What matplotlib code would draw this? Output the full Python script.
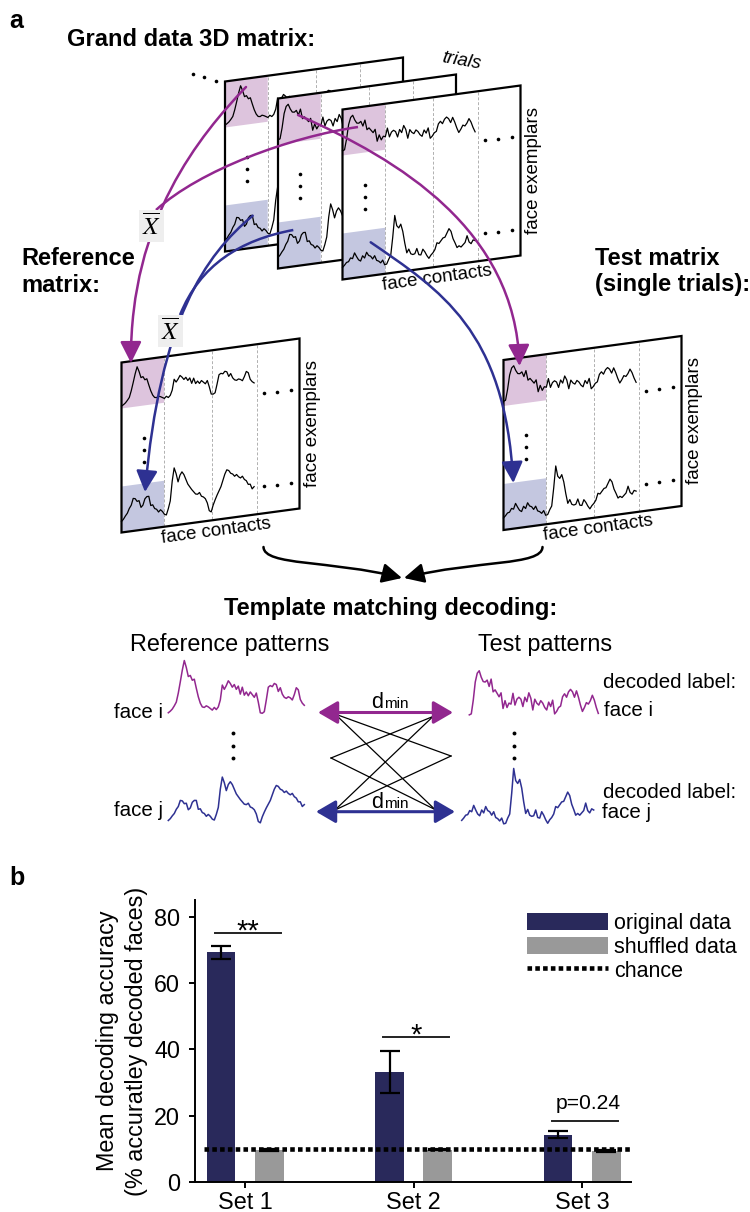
import numpy as np
import matplotlib
matplotlib.use("Agg")
import matplotlib.pyplot as plt
from matplotlib.patches import Polygon, FancyArrowPatch, PathPatch, Patch
from matplotlib.path import Path
from matplotlib.lines import Line2D

plt.rcParams['font.family'] = ['Liberation Sans', 'DejaVu Sans']
plt.rcParams['mathtext.fontset'] = 'stix'

# ---------------- data (panel b) ----------------
sets = ['Set 1', 'Set 2', 'Set 3']
original_mean = [69.3, 33.2, 14.3]
original_err = [2.0, 6.2, 1.0]
shuffled_mean = [9.8, 9.8, 9.4]
shuffled_err = [0.3, 0.2, 0.3]
chance_level = 10
sig_labels = ['**', '*', 'p=0.24']
sig_heights = [75.0, 43.6, 18.5]
y_ticks = [0, 20, 40, 60, 80]
legend_labels = ['original data', 'shuffled data', 'chance']

# ---------------- schematic traces (panel a), normalised amplitude ----------------
ref_i = [0.01, 0.04, 0.08, 0.14, 0.21, 0.38, 0.59, 0.81, 0.99, 0.86, 0.69, 0.71, 0.62, 0.64,
         0.47, 0.31, 0.19, 0.12, 0.11, 0.14, 0.12, 0.09, 0.06, 0.11, 0.07, 0.12, 0.25, 0.53,
         0.45, 0.52, 0.61, 0.56, 0.49, 0.54, 0.45, 0.51, 0.36, 0.49, 0.34, 0.40, 0.33, 0.40,
         0.35, 0.30, 0.38, 0.21, 0.01, 0.00, 0.03, 0.25, 0.49, 0.52, 0.50, 0.56, 0.54, 0.41,
         0.48, 0.36, 0.30, 0.28, 0.31, 0.29, 0.25, 0.35, 0.48, 0.44, 0.26, 0.19, 0.15]
ref_j = [0.06, 0.10, 0.16, 0.21, 0.30, 0.36, 0.49, 0.48, 0.42, 0.43, 0.29, 0.33, 0.45, 0.49,
         0.49, 0.30, 0.31, 0.23, 0.21, 0.15, 0.19, 0.15, 0.09, 0.07, 0.19, 0.34, 0.73, 0.99,
         0.87, 0.70, 0.83, 0.89, 0.83, 0.73, 0.63, 0.57, 0.51, 0.46, 0.41, 0.40, 0.43, 0.35,
         0.33, 0.29, 0.20, 0.04, 0.01, 0.14, 0.24, 0.33, 0.41, 0.49, 0.61, 0.73, 0.81, 0.79,
         0.73, 0.71, 0.66, 0.69, 0.64, 0.61, 0.64, 0.57, 0.54, 0.46, 0.46, 0.36, 0.40]
test_i = [0.07, 0.09, 0.37, 0.74, 0.92, 0.97, 0.84, 0.75, 0.74, 0.78, 0.65, 0.80, 0.54, 0.58,
          0.51, 0.44, 0.52, 0.20, 0.36, 0.22, 0.31, 0.29, 0.51, 0.27, 0.39, 0.43, 0.39, 0.24,
          0.43, 0.34, 0.52, 0.41, 0.17, 0.39, 0.31, 0.27, 0.36, 0.31, 0.22, 0.17, 0.33, 0.24,
          0.37, 0.09, 0.14, 0.22, 0.25, 0.44, 0.50, 0.43, 0.54, 0.59, 0.54, 0.43, 0.56, 0.43,
          0.27, 0.14, 0.22, 0.32, 0.29, 0.36, 0.47, 0.37, 0.22, 0.10]
test_j = [0.08, 0.12, 0.17, 0.18, 0.25, 0.23, 0.34, 0.26, 0.19, 0.16, 0.26, 0.21, 0.32, 0.25,
          0.23, 0.17, 0.23, 0.13, 0.11, 0.07, 0.12, 0.02, 0.03, 0.12, 0.19, 0.55, 0.98, 0.77,
          0.72, 0.79, 0.64, 0.40, 0.20, 0.27, 0.17, 0.15, 0.16, 0.26, 0.13, 0.12, 0.23, 0.17,
          0.09, 0.03, 0.09, 0.13, 0.19, 0.32, 0.30, 0.35, 0.40, 0.41, 0.49, 0.57, 0.51, 0.36,
          0.27, 0.17, 0.20, 0.17, 0.21, 0.25, 0.38, 0.25, 0.21, 0.28, 0.26]

# ---------------- style ----------------
PURPLE = '#92278F'
BLUE = '#2E3192'
PINK = '#DDC4DD'
LBLUE = '#C4C7E0'
NAVY = '#29295B'
GREY = '#999999'

fig = plt.figure(figsize=(7.5, 12.12), dpi=100)
ax0 = fig.add_axes([0, 0, 1, 1])
ax0.set_xlim(0, 750)
ax0.set_ylim(1212, 0)
ax0.axis('off')

W, H, S = 178.0, 170.0, 24.0


def top_y(x0, y0, x):
    return y0 - S * (np.asarray(x) - x0) / W


def draw_frame(x0, y0, z, row1, row2, labels=False):
    corners = [(x0, y0), (x0 + W, y0 - S), (x0 + W, y0 - S + H), (x0, y0 + H)]
    ax0.add_patch(Polygon(corners, closed=True, fc='white', ec='none', zorder=z))
    cw = 0.24 * W
    xa, xb = x0, x0 + cw
    ta, tb = top_y(x0, y0, xa), top_y(x0, y0, xb)
    ax0.add_patch(Polygon([(xa, ta), (xb, tb), (xb, tb + 46), (xa, ta + 46)],
                          fc=PINK, ec='none', zorder=z + 0.1))
    ax0.add_patch(Polygon([(xa, ta + 124), (xb, tb + 124), (xb, tb + H), (xa, ta + H)],
                          fc=LBLUE, ec='none', zorder=z + 0.1))
    for f in (0.24, 0.51, 0.76):
        xd = x0 + f * W
        td = top_y(x0, y0, xd)
        ax0.plot([xd, xd], [td + 1, td + H - 1], color='#B0B0B0', lw=0.7,
                 ls=(0, (3, 2)), zorder=z + 0.2)
    for vals, base, amp in ((row1, 44, 38), (row2, 162, 50)):
        v = np.asarray(vals)
        n = len(v)
        xs = x0 + 0.745 * W * np.arange(n) / (n - 1)
        ys = top_y(x0, y0, xs) + base - amp * v
        ax0.plot(xs, ys, color='black', lw=0.9, zorder=z + 0.3)
    for off in (50, 143):
        xd = x0 + np.array([0.80, 0.875, 0.95]) * W
        ax0.plot(xd, top_y(x0, y0, xd) + off, 'o', color='black', ms=2.6, mew=0,
                 zorder=z + 0.3)
    xd = x0 + 0.125 * W
    ax0.plot([xd] * 3, top_y(x0, y0, xd) + np.array([78, 90, 102]), 'o', color='black',
             ms=2.6, mew=0, zorder=z + 0.3)
    ax0.add_patch(Polygon(corners, closed=True, fc='none', ec='black', lw=1.6,
                          joinstyle='miter', zorder=z + 0.4))
    if labels:
        ax0.text(x0 + W + 13, y0 - S + H / 2, 'face exemplars', rotation=90,
                 ha='center', va='center', fontsize=13.5, zorder=z + 0.5)
        xc = x0 + 0.53 * W
        ax0.text(xc, top_y(x0, y0, xc) + H + 11, 'face contacts', rotation=7.7,
                 ha='center', va='center', fontsize=13.5, zorder=z + 0.5,
                 rotation_mode='anchor')


# ---------- titles ----------
ax0.text(9, 28, 'a', fontsize=18, fontweight='bold', va='baseline')
ax0.text(67, 46, 'Grand data 3D matrix:', fontsize=17, fontweight='bold', va='baseline')
ax0.text(21, 291.5, 'Reference\nmatrix:', fontsize=17, fontweight='bold', va='baseline',
         linespacing=1.2)
ax0.text(595, 291.5, 'Test matrix\n(single trials):', fontsize=17, fontweight='bold',
         va='baseline', linespacing=1.2)

# ---------- 3D stack ----------
ax0.plot([192.7, 204, 216], [74, 77.3, 80.7], 'o', color='black', ms=2.6, mew=0)
draw_frame(225, 81.5, 1, ref_i, ref_j)
draw_frame(278, 98.5, 2, test_i, ref_j)
draw_frame(342.5, 109.5, 3, test_i, test_j, labels=True)
ax0.text(461, 61, 'trials', fontsize=13.5, style='italic', rotation=-10,
         ha='center', va='center')

# ---------- reference & test matrices ----------
draw_frame(121.5, 362.5, 4, ref_i, ref_j, labels=True)
draw_frame(503.5, 360, 4, test_i, test_j, labels=True)


# ---------- curved arrows ----------
def curve(pts, color, arrow=True, lw=1.8, z=10, hl=13, hw=6.5):
    path = Path(pts, [Path.MOVETO, Path.CURVE4, Path.CURVE4, Path.CURVE4])
    if arrow:
        ax0.add_patch(FancyArrowPatch(path=path, arrowstyle=f'-|>,head_length={hl},head_width={hw}',
                                      color=color, lw=lw, zorder=z, mutation_scale=1))
    else:
        ax0.add_patch(PathPatch(path, fc='none', ec=color, lw=lw, zorder=z))


curve([(246, 87), (200, 135), (130, 220), (131, 363)], PURPLE)
curve([(358, 127), (290, 137), (200, 170), (156, 210)], PURPLE, arrow=False)
curve([(298, 115), (400, 160), (515, 230), (519.5, 366)], PURPLE)
curve([(252.7, 215.7), (205, 255), (160, 320), (145, 492)], BLUE)
curve([(293.3, 230), (240, 240), (200, 265), (180, 315)], BLUE, arrow=False)
curve([(370.7, 242.3), (440, 290), (505, 330), (513.3, 483)], BLUE)

xbar_box = dict(boxstyle='square,pad=0.12', fc='#EEEEEE', ec='none')
ax0.text(151.5, 226, r'$\overline{X}$', fontsize=18, ha='center', va='center',
         bbox=xbar_box, zorder=11)
ax0.text(170.5, 331, r'$\overline{X}$', fontsize=18, ha='center', va='center',
         bbox=xbar_box, zorder=11)

# ---------- brace arrows ----------
curve([(263.5, 547), (264, 566), (330, 560), (402, 578)], 'black', lw=1.8, hl=12, hw=6)
curve([(542.5, 547), (542, 566), (476, 560), (404, 578)], 'black', lw=1.8, hl=12, hw=6)

# ---------- template matching ----------
ax0.text(391, 615, 'Template matching decoding:', fontsize=17, fontweight='bold',
         ha='center', va='baseline')
ax0.text(229.5, 651.5, 'Reference patterns', fontsize=16.8, ha='center', va='baseline')
ax0.text(545, 651.5, 'Test patterns', fontsize=16.8, ha='center', va='baseline')


def pattern(vals, x_start, x_end, base, amp, color):
    v = np.asarray(vals)
    xs = np.linspace(x_start, x_end, len(v))
    ax0.plot(xs, base - amp * v, color=color, lw=1.1, zorder=5)


pattern(ref_i, 168.3, 304.3, 713.3, 53.3, PURPLE)
pattern(ref_j, 168.3, 304.3, 823.3, 46.7, BLUE)
pattern(test_i, 469.3, 598.3, 718.3, 49.0, PURPLE)
pattern(test_j, 461.7, 593.7, 825.0, 57.7, BLUE)

ax0.text(114, 717.5, 'face i', fontsize=14.8, va='baseline')
ax0.text(114, 816.5, 'face j', fontsize=14.8, va='baseline')
ax0.text(603, 688, 'decoded label:', fontsize=14.8, va='baseline')
ax0.text(604, 716.5, 'face i', fontsize=14.8, va='baseline')
ax0.text(603, 798, 'decoded label:', fontsize=14.8, va='baseline')
ax0.text(602, 818.5, 'face j', fontsize=14.8, va='baseline')

for xd in (232.7, 514):
    ax0.plot([xd] * 3, [733.3, 745.7, 758.3], 'o', color='black', ms=2.8, mew=0)

L = {'1': (335, 714), 'm': (331, 758), '2': (335, 810)}
R = {'1': (433, 716.5), 'm': (451, 756), '2': (435, 809.5)}
for a, b in (('1', 'm'), ('1', '2'), ('m', '1'), ('m', '2'), ('2', '1'), ('2', 'm')):
    ax0.plot([L[a][0], R[b][0]], [L[a][1], R[b][1]], color='black', lw=0.9, zorder=4)

ax0.add_patch(FancyArrowPatch((318, 712.5), (453, 712.5),
                              arrowstyle='<|-|>,head_length=12,head_width=7', color=PURPLE,
                              lw=2.2, shrinkA=0, shrinkB=0, mutation_scale=1, zorder=6))
ax0.add_patch(FancyArrowPatch((316, 811.7), (455, 811.7),
                              arrowstyle='<|-|>,head_length=12,head_width=7', color=BLUE,
                              lw=2.2, shrinkA=0, shrinkB=0, mutation_scale=1, zorder=6))
for yb in (708.5, 808.5):
    ax0.text(371, yb, 'd', fontsize=15.5, va='baseline', zorder=7)
    ax0.text(384.5, yb, 'min', fontsize=11, va='baseline', zorder=7)

# ---------------- panel b ----------------
ax0.text(9, 885, 'b', fontsize=18, fontweight='bold', va='baseline')

ax = fig.add_axes([194.7 / 750, (1212 - 1182.3) / 1212, (631 - 194.7) / 750, 282.3 / 1212])
x = np.arange(len(sets))
ekw = dict(elinewidth=1.6, capthick=1.6, ecolor='black')
ax.bar(x - 0.143, original_mean, 0.17, color=NAVY, yerr=original_err, capsize=7,
       error_kw=ekw, zorder=2)
ax.bar(x + 0.143, shuffled_mean, 0.17, color=GREY, yerr=shuffled_err, capsize=7,
       error_kw=ekw, zorder=2)
ax.axhline(chance_level, xmin=0.021, xmax=1, color='black', lw=3.3, ls=(0, (1.0, 0.7)),
           zorder=3)
for i, (lab, h) in enumerate(zip(sig_labels, sig_heights)):
    ax.plot([i - 0.18, i + 0.21], [h, h], color='#222222', lw=1.4, zorder=3)
    if lab.startswith('p'):
        ax.text(i + 0.035, h + 3.5, lab, fontsize=15.2, ha='center', va='baseline')
    else:
        ax.text(i + 0.015, h - 1.8, lab, fontsize=21, ha='center', va='baseline')

ax.set_xlim(-0.30, 2.29)
ax.set_ylim(0, 85)
ax.set_yticks(y_ticks)
ax.set_xticks(x)
ax.set_xticklabels(sets)
for s in ('top', 'right'):
    ax.spines[s].set_visible(False)
for s in ('left', 'bottom'):
    ax.spines[s].set_linewidth(1.4)
ax.tick_params(axis='both', labelsize=16.8, width=1.4, length=4.5, direction='out')
ax.tick_params(axis='y', pad=6)
ax.tick_params(axis='x', pad=2)
ax.set_ylabel('Mean decoding accuracy\n(% accuratley decoded faces)', fontsize=16.8,
              linespacing=1.3)
ax.yaxis.set_label_coords(-0.108, 0.5)

handles = [Patch(facecolor=NAVY), Patch(facecolor=GREY),
           Line2D([0], [0], color='black', lw=3.3, ls=(0, (1.0, 0.7)))]
ax.legend(handles, legend_labels, loc='upper left', bbox_to_anchor=(0.7616, 0.955),
          frameon=False, fontsize=15.5, handlelength=3.77, handleheight=0.88,
          handletextpad=0.28, labelspacing=0.12, borderpad=0, borderaxespad=0)

fig.savefig('out.png', dpi=100)
